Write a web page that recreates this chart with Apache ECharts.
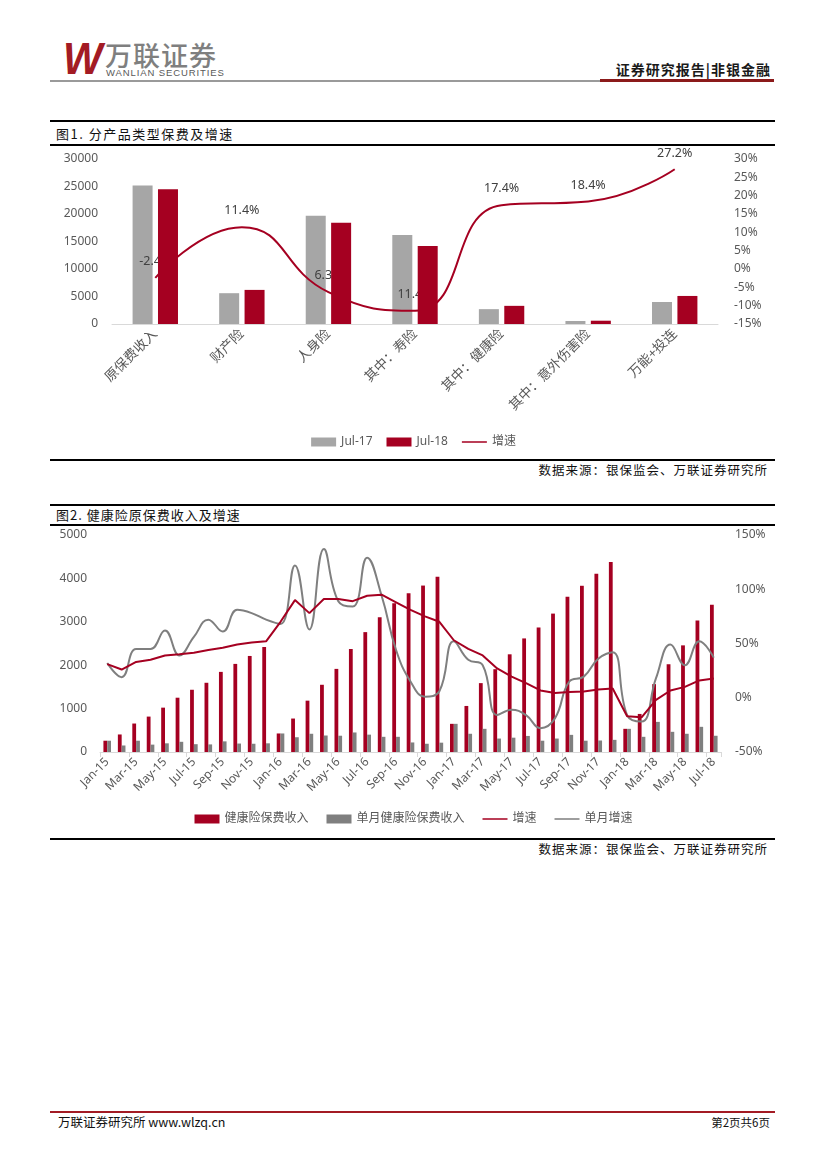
<!DOCTYPE html>
<html>
<head>
<meta charset="utf-8">
<script src="https://cdn.jsdelivr.net/npm/echarts@6/dist/echarts.min.js"></script>
<style>
  html, body { margin: 0; padding: 0; background: #fff; }
  #page { position: relative; width: 827px; height: 1169px; overflow: hidden; font-family: "Noto Sans CJK SC", "Noto Sans", sans-serif; }
  .abs { position: absolute; }
  .line { position: absolute; }
</style>
</head>
<body>
<div id="page">
  <!-- header -->
  <div class="abs" style="left:62px;top:34px;font:italic bold 44px 'Liberation Sans',sans-serif;color:#A31B24;letter-spacing:-6px;transform:scaleX(0.95);">W</div>
  <div class="abs" style="left:105px;top:39px;font:500 27px 'Noto Sans CJK SC';color:#7F7F7F;letter-spacing:1px;line-height:32px;">万联证券</div>
  <div class="abs" style="left:106px;top:68px;font:9.5px 'Liberation Sans',sans-serif;color:#595959;letter-spacing:0.9px;line-height:10px;">WANLIAN SECURITIES</div>
  <div class="line" style="left:50px;top:80px;width:552px;height:1.5px;background:#9A9A9A;"></div>
  <div class="line" style="left:600px;top:79px;width:174px;height:2.5px;background:#8B1A1A;"></div>
  <div class="abs" style="right:56px;top:60px;font:bold 14px 'Noto Sans CJK SC';color:#1a1a1a;letter-spacing:1px;line-height:18px;">证券研究报告|非银金融</div>

  <!-- chart 1 frame -->
  <div class="line" style="left:50px;top:120px;width:725px;height:2px;background:#000;"></div>
  <div class="abs" style="left:56px;top:125px;font:13px 'Noto Sans CJK SC';color:#111;letter-spacing:1.5px;line-height:17px;">图1. 分产品类型保费及增速</div>
  <div class="line" style="left:50px;top:144px;width:725px;height:1.5px;background:#000;"></div>
  <div id="c1" class="abs" style="left:0;top:146px;width:827px;height:312px;"></div>
  <div class="line" style="left:50px;top:459px;width:725px;height:2px;background:#000;"></div>
  <div class="abs" style="right:59px;top:462px;font:12.5px 'Noto Sans CJK SC';color:#111;letter-spacing:1px;line-height:16px;">数据来源：银保监会、万联证券研究所</div>

  <!-- chart 2 frame -->
  <div class="line" style="left:50px;top:504px;width:725px;height:2px;background:#000;"></div>
  <div class="abs" style="left:56px;top:506px;font:13px 'Noto Sans CJK SC';color:#111;letter-spacing:1px;line-height:17px;">图2. 健康险原保费收入及增速</div>
  <div class="line" style="left:50px;top:524px;width:725px;height:1.5px;background:#000;"></div>
  <div id="c2" class="abs" style="left:0;top:526px;width:827px;height:310px;"></div>
  <div class="line" style="left:50px;top:838px;width:725px;height:2px;background:#000;"></div>
  <div class="abs" style="right:59px;top:841px;font:12.5px 'Noto Sans CJK SC';color:#111;letter-spacing:1px;line-height:16px;">数据来源：银保监会、万联证券研究所</div>

  <!-- footer -->
  <div class="line" style="left:50px;top:1111px;width:725px;height:2px;background:#A31B24;"></div>
  <div class="abs" style="left:58px;top:1114px;font:12.5px 'Noto Sans CJK SC';color:#111;line-height:16px;">万联证券研究所 www.wlzq.cn</div>
  <div class="abs" style="right:57px;top:1114px;font:11.5px 'Noto Sans CJK SC';color:#111;line-height:16px;">第2页共6页</div>
</div>
<script>
// ---------- Chart 1 data ----------
var cats1 = ['原保费收入', '财产险', '人身险', '其中：寿险', '其中：健康险', '其中：意外伤害险', '万能+投连'];
var jul17 = [25200, 5600, 19700, 16200, 2700, 550, 4000];
var jul18 = [24500, 6200, 18400, 14200, 3300, 600, 5100];
var growth1 = [-2.4, 11.4, -6.3, -11.4, 17.4, 18.4, 27.2];
var growthLabels1 = ['-2.4%', '11.4%', '6.3%', '11.4%', '17.4%', '18.4%', '27.2%'];

// ---------- Chart 2 data ----------
var months = ['Jan-15','Feb-15','Mar-15','Apr-15','May-15','Jun-15','Jul-15','Aug-15','Sep-15','Oct-15','Nov-15','Dec-15',
  'Jan-16','Feb-16','Mar-16','Apr-16','May-16','Jun-16','Jul-16','Aug-16','Sep-16','Oct-16','Nov-16','Dec-16',
  'Jan-17','Feb-17','Mar-17','Apr-17','May-17','Jun-17','Jul-17','Aug-17','Sep-17','Oct-17','Nov-17','Dec-17',
  'Jan-18','Feb-18','Mar-18','Apr-18','May-18','Jun-18','Jul-18'];
var cumIncome = [260,404,656,816,1022,1251,1434,1595,1846,2030,2213,2419,
  427,771,1183,1549,1915,2373,2762,3105,3426,3655,3835,4040,
  649,1061,1587,1908,2251,2617,2869,3189,3578,3830,4105,4380,
  534,877,1564,2022,2457,3029,3395];
var monthIncome = [260,150,260,170,200,235,180,175,245,195,190,200,
  427,340,420,380,375,450,400,350,350,220,190,215,
  649,420,534,310,330,370,260,310,395,260,265,280,
  534,350,694,465,420,580,374];
var cumGrowth = [31,26,33,35,39,40,41.5,44,46,49,51,52,
  70,90,78,91,91,89,94,95,88,81,75,70,
  53,45,39,27,19.5,13.4,6.7,4.3,5.2,5.8,7.6,8.5,
  -17,-18,-2,6.7,10,16,17.7];
var monthGrowth = [32,19,45,45,62,39,56,72,61,81,78,72,
  68,122,63,137,89,84,129,94,44,15,1,6,
  52,35,30,-16,-11,-16,-28,-19,15,19.5,36,42,
  -16,-22,18,49,30,52,37];

var RED = '#A50021', GRAY1 = '#A6A6A6', GRAY2 = '#7F7F7F', TXT = '#595959';
var FONT = '"Noto Sans", "Noto Sans CJK SC", sans-serif';
// legend icon: a thin horizontal line centred in a 25x9 box
var LINE_ICON = 'path://M0,0L0.05,0L0.05,0.05Z M0,3.8L25,3.8L25,5.3L0,5.3Z M24.95,8.95L25,8.95L25,9Z';
var plainNum = function (v) { return String(v); };

var c1 = echarts.init(document.getElementById('c1'));
c1.setOption({
  animation: false,
  textStyle: { fontFamily: FONT },
  grid: { left: 112, top: 13, width: 606, height: 165 },
  legend: {
    top: 285, left: 'center', itemWidth: 25, itemHeight: 9, itemGap: 14,
    textStyle: { color: TXT, fontSize: 12, fontFamily: FONT },
    data: [{ name: 'Jul-17', icon: 'rect' }, { name: 'Jul-18', icon: 'rect' }, { name: '增速', icon: LINE_ICON }]
  },
  xAxis: {
    type: 'category', data: cats1,
    axisLine: { lineStyle: { color: '#D9D9D9' } },
    axisTick: { show: false },
    axisLabel: { rotate: 45, color: TXT, fontSize: 13.5, margin: 8, interval: 0, fontFamily: FONT }
  },
  yAxis: [
    { type: 'value', min: 0, max: 30000, interval: 5000, splitLine: { show: false },
      axisLabel: { color: TXT, fontSize: 12, margin: 14, fontFamily: FONT, formatter: plainNum } },
    { type: 'value', min: -15, max: 30, interval: 5, splitLine: { show: false },
      axisLabel: { color: TXT, fontSize: 12, margin: 16, formatter: '{value}%', fontFamily: FONT } }
  ],
  series: [
    { name: 'Jul-17', type: 'bar', data: jul17, barWidth: 20, barGap: '27%', z: 1,
      itemStyle: { color: GRAY1 } },
    { name: 'Jul-18', type: 'bar', data: jul18, barWidth: 20, barGap: '27%', z: 3,
      itemStyle: { color: RED } },
    { name: '增速', type: 'line', yAxisIndex: 1, data: growth1, smooth: 0.5,
      symbol: 'circle', symbolSize: 0.1, showSymbol: true, z: 2,
      lineStyle: { color: RED, width: 2 }, itemStyle: { color: RED },
      label: { show: true, position: 'top', distance: 10, color: '#404040', fontSize: 12.5, fontFamily: FONT,
        formatter: function (p) { return growthLabels1[p.dataIndex]; } } }
  ]
});

var c2 = echarts.init(document.getElementById('c2'));
c2.setOption({
  animation: false,
  textStyle: { fontFamily: FONT },
  grid: { left: 100, top: 9, width: 621, height: 217 },
  legend: {
    top: 282, left: 'center', itemWidth: 25, itemHeight: 9, itemGap: 18,
    textStyle: { color: TXT, fontSize: 12, fontFamily: FONT },
    data: [{ name: '健康险保费收入', icon: 'rect' }, { name: '单月健康险保费收入', icon: 'rect' },
      { name: '增速', icon: LINE_ICON }, { name: '单月增速', icon: LINE_ICON }]
  },
  xAxis: {
    type: 'category', data: months,
    axisLine: { lineStyle: { color: '#D9D9D9' } },
    axisTick: { show: true, interval: 1, length: 5, lineStyle: { color: '#D9D9D9' } },
    axisLabel: { rotate: 45, interval: 1, color: TXT, fontSize: 12, margin: 8, fontFamily: FONT }
  },
  yAxis: [
    { type: 'value', min: 0, max: 5000, interval: 1000, splitLine: { show: false },
      axisLabel: { color: TXT, fontSize: 12, margin: 13, fontFamily: FONT, formatter: plainNum } },
    { type: 'value', min: -50, max: 150, interval: 50, splitLine: { show: false },
      axisLabel: { color: TXT, fontSize: 12, margin: 14, formatter: '{value}%', fontFamily: FONT } }
  ],
  series: [
    { name: '健康险保费收入', type: 'bar', data: cumIncome, barWidth: 3.8, barGap: '0%',
      itemStyle: { color: RED } },
    { name: '单月健康险保费收入', type: 'bar', data: monthIncome, barWidth: 3.8, barGap: '0%',
      itemStyle: { color: GRAY2 } },
    { name: '增速', type: 'line', yAxisIndex: 1, data: cumGrowth, symbol: 'none', z: 4,
      lineStyle: { color: RED, width: 2 }, itemStyle: { color: RED } },
    { name: '单月增速', type: 'line', yAxisIndex: 1, data: monthGrowth, symbol: 'none', smooth: 0.45, z: 3,
      lineStyle: { color: GRAY2, width: 2 }, itemStyle: { color: GRAY2 } }
  ]
});
</script>
</body>
</html>
